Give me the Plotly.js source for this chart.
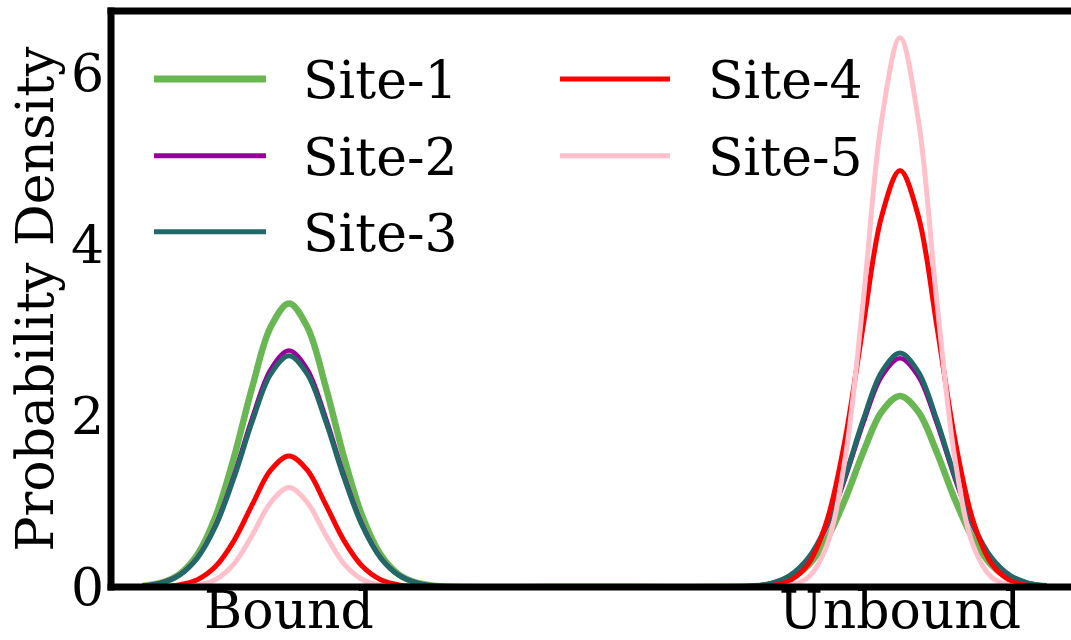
<!DOCTYPE html>
<html>
<head>
<meta charset="utf-8">
<script src="https://cdn.plot.ly/plotly-3.0.1.min.js"></script>
<style>html,body{margin:0;padding:0;background:#fff;}#chart{width:1071px;height:640px;}</style>
</head>
<body>
<div id="chart"></div>
<script>
// ---- data ----
const categories = ["Bound", "Unbound"];
const categoryPos = [0, 1];
const siteNames = ["Site-1", "Site-2", "Site-3", "Site-4", "Site-5"];
const siteColors = ["#69b753", "#990099", "#226868", "#ff0000", "#ffc0cb"];

// density-axis positions (Bound centred at 0, Unbound at 1)
const xGrid = [-0.24,-0.21,-0.18,-0.15,-0.12,-0.09,-0.06,-0.03,0,0.03,0.06,0.09,0.12,0.15,0.18,0.21,0.24,
               0.5,
               0.76,0.79,0.82,0.85,0.88,0.91,0.94,0.97,1,1.03,1.06,1.09,1.12,1.15,1.18,1.21,1.24];

const site1 = [0.013,0.047,0.145,0.378,0.826,1.515,2.339,3.035,3.310,3.035,2.339,1.515,0.826,0.378,0.145,0.047,0.013,
               0,
               0.009,0.032,0.098,0.255,0.556,1.021,1.576,2.045,2.230,2.045,1.576,1.021,0.556,0.255,0.098,0.032,0.009];
const site2 = [0.013,0.047,0.138,0.344,0.728,1.304,1.978,2.539,2.760,2.539,1.978,1.304,0.728,0.344,0.138,0.047,0.013,
               0,
               0.013,0.045,0.133,0.333,0.704,1.262,1.913,2.457,2.670,2.457,1.913,1.262,0.704,0.333,0.133,0.045,0.013];
const site3 = [0.013,0.046,0.135,0.337,0.712,1.276,1.935,2.484,2.700,2.484,1.935,1.276,0.712,0.337,0.135,0.046,0.013,
               0,
               0.013,0.046,0.136,0.340,0.720,1.290,1.956,2.512,2.730,2.512,1.956,1.290,0.720,0.340,0.136,0.046,0.013];
const site4 = [0.001,0.005,0.024,0.085,0.241,0.541,0.964,1.363,1.530,1.363,0.964,0.541,0.241,0.085,0.024,0.005,0.001,
               0,
               0.003,0.017,0.076,0.270,0.765,1.718,3.061,4.329,4.860,4.329,3.061,1.718,0.765,0.270,0.076,0.017,0.003];
const site5 = [0.000,0.000,0.003,0.020,0.087,0.270,0.607,0.986,1.160,0.986,0.607,0.270,0.087,0.020,0.003,0.000,0.000,
               0,
               0.000,0.002,0.019,0.112,0.479,1.491,3.353,5.451,6.410,5.451,3.353,1.491,0.479,0.112,0.019,0.002,0.000];
const siteValues = [site1, site2, site3, site4, site5];

const yTickVals = [0, 2, 4, 6];
const yTickText = ["0", "2", "4", "6"];
const yTitle = "Probability Density";

// ---- styling ----
const FONT = "DejaVu Serif";
const FS = 52;
const lineWidths = [6.5, 4.5, 5, 5, 5];
const legendLineWidths = [7, 5, 5, 5, 5];

const L = 111, R = 0, T = 11, B = 52.5;
const W = 1071 - L - R, H = 640 - T - B;
const pxX = p => (p - L) / W;
const pxY = p => (640 - B - p) / H;

const traces = siteNames.map((name, i) => ({
  type: "scatter",
  mode: "lines",
  x: xGrid,
  y: siteValues[i],
  name: name,
  line: {color: siteColors[i], width: lineWidths[i], shape: "spline", smoothing: 1},
  showlegend: false,
  hoverinfo: "skip"
}));

// spines (left, bottom, top; the right one lies outside the picture)
const shapes = [
  {type: "line", xref: "paper", yref: "paper", x0: pxX(107.5), x1: 1.01, y0: 0, y1: 0, line: {color: "#000", width: 7}},
  {type: "line", xref: "paper", yref: "paper", x0: pxX(107.5), x1: 1.01, y0: 1, y1: 1, line: {color: "#000", width: 7}},
  {type: "line", xref: "paper", yref: "paper", x0: 0, x1: 0, y0: pxY(591), y1: pxY(7.5), line: {color: "#000", width: 7}}
];
const annotations = [];

// manual two-column legend (long line samples like the reference)
const legendSlots = [
  {lx0: 154, lx1: 266, tx: 301, y: 79},
  {lx0: 154, lx1: 266, tx: 301, y: 156},
  {lx0: 154, lx1: 266, tx: 301, y: 232},
  {lx0: 560, lx1: 670, tx: 706, y: 79},
  {lx0: 560, lx1: 670, tx: 706, y: 156}
];
siteNames.forEach((name, i) => {
  const s = legendSlots[i];
  shapes.push({type: "line", xref: "paper", yref: "paper",
    x0: pxX(s.lx0), x1: pxX(s.lx1), y0: pxY(s.y), y1: pxY(s.y),
    line: {color: siteColors[i], width: legendLineWidths[i]}});
  annotations.push({xref: "paper", yref: "paper", x: pxX(s.tx), y: pxY(s.y + 1),
    xanchor: "left", yanchor: "middle", showarrow: false, text: name,
    font: {family: FONT, size: FS, color: "#000"}});
});

const layout = {
  width: 1071, height: 640,
  margin: {l: L, r: R, t: T, b: B, pad: 0},
  paper_bgcolor: "#fff", plot_bgcolor: "#fff",
  font: {family: FONT, color: "#000"},
  xaxis: {
    range: [(L - 289) / 611, (1071 - 289) / 611],
    tickvals: categoryPos, ticktext: categories,
    ticks: "", showgrid: false, zeroline: false, showline: false,
    ticklabelstandoff: -12,
    tickfont: {family: FONT, size: FS, color: "#000"},
    fixedrange: true
  },
  yaxis: {
    range: [0, H / 85.75],
    tickvals: yTickVals, ticktext: yTickText,
    ticks: "", showgrid: false, zeroline: false, showline: false,
    ticklabelstandoff: 6,
    tickfont: {family: FONT, size: FS, color: "#000"},
    title: {text: yTitle, font: {family: FONT, size: FS, color: "#000"}, standoff: 0},
    fixedrange: true
  },
  shapes: shapes,
  annotations: annotations,
  showlegend: false
};

Plotly.newPlot("chart", traces, layout, {displayModeBar: false, staticPlot: true});
</script>
</body>
</html>
